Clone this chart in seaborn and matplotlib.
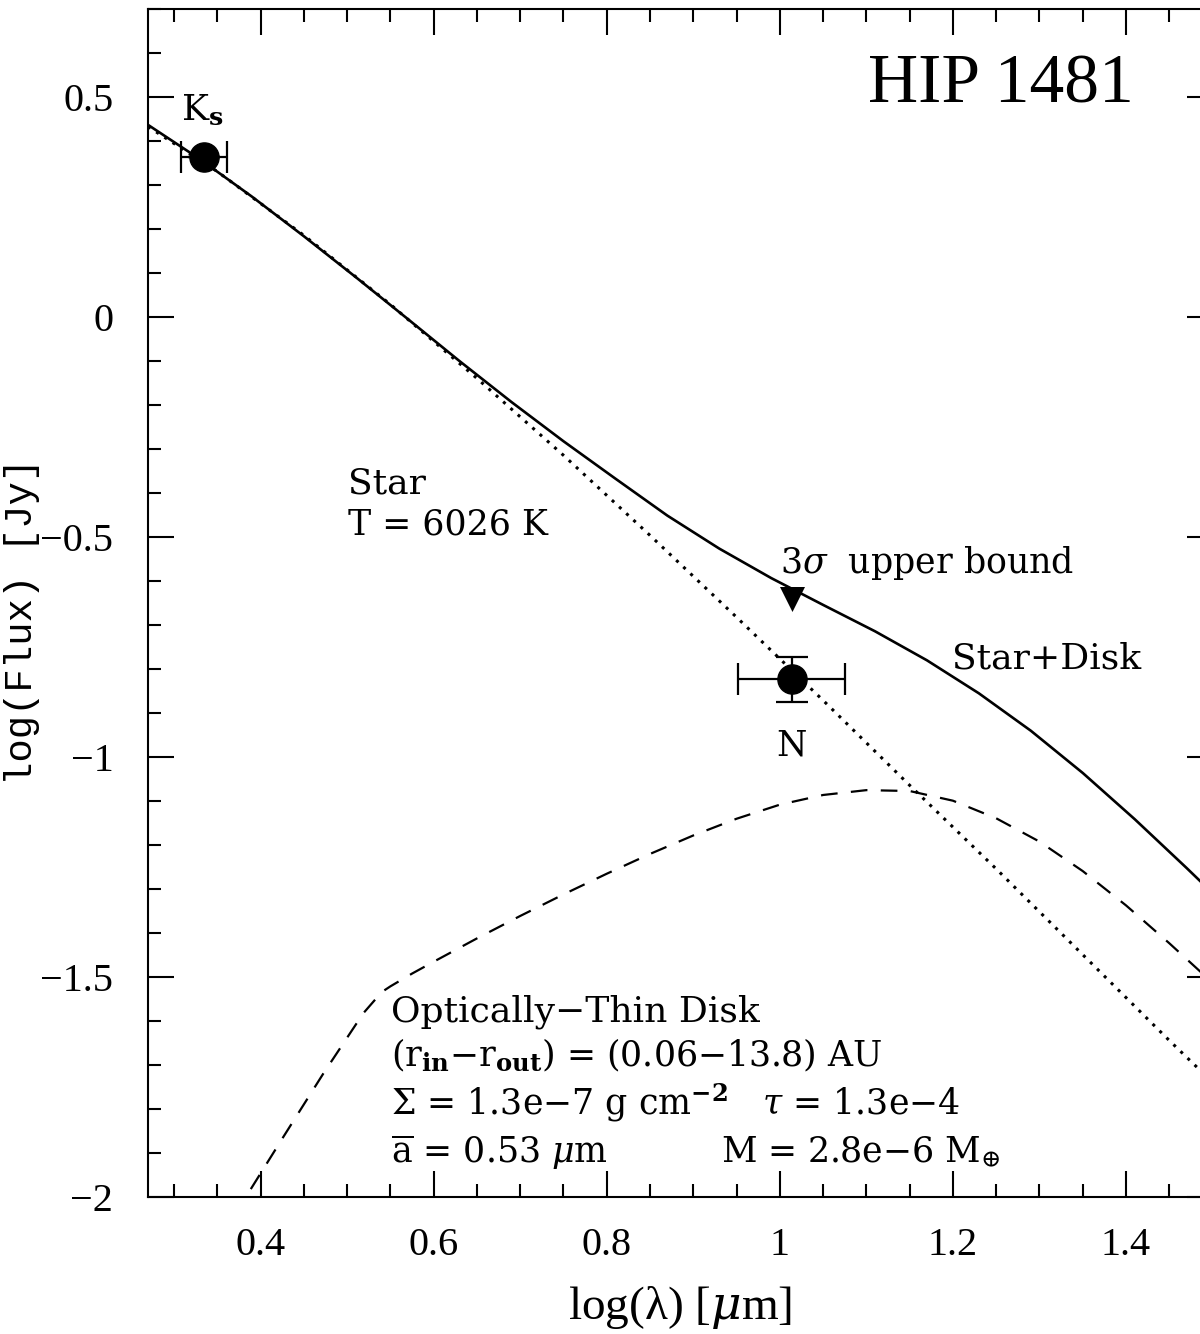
import numpy as np
import pandas as pd
import matplotlib
matplotlib.use("Agg")
import matplotlib.pyplot as plt
import seaborn as sns
from matplotlib.ticker import MultipleLocator, FixedLocator

# ---- data ----
# stellar photosphere (dotted)
star_x = [0.27, 0.35, 0.45, 0.55, 0.65, 0.75, 0.85, 0.95, 1.05, 1.15, 1.25, 1.35, 1.45, 1.50]
star_y = [0.432, 0.33, 0.185, 0.028, -0.14, -0.315, -0.497, -0.683, -0.872, -1.065, -1.255, -1.45, -1.645, -1.74]

# optically-thin disk (dashed)
disk_x = [0.37, 0.382, 0.4264, 0.4726, 0.5188, 0.54, 0.55, 0.575, 0.60, 0.65, 0.70, 0.75, 0.80,
          0.85, 0.90, 0.95, 1.00, 1.05, 1.10, 1.15, 1.20, 1.25, 1.30, 1.35, 1.40, 1.45, 1.50]
disk_y = [-2.04, -2.004, -1.864, -1.72, -1.583, -1.535, -1.522, -1.493, -1.466, -1.413, -1.362, -1.313, -1.266,
          -1.221, -1.179, -1.141, -1.109, -1.087, -1.076, -1.078, -1.10, -1.14, -1.193, -1.26, -1.338, -1.424, -1.514]

# star + disk (solid)
tot_x = [0.27, 0.33, 0.39, 0.45, 0.51, 0.57, 0.63, 0.69, 0.75, 0.81, 0.87, 0.93, 0.99,
         1.05, 1.11, 1.17, 1.23, 1.29, 1.35, 1.41, 1.47, 1.50]
tot_y = [0.436, 0.358, 0.273, 0.183, 0.090, -0.005, -0.101, -0.194, -0.283, -0.368, -0.452, -0.527,
         -0.594, -0.655, -0.715, -0.781, -0.856, -0.941, -1.037, -1.142, -1.253, -1.31]

# photometry
phot_x = [0.3347, 1.0137]
phot_y = [0.3636, -0.824]
phot_xerr = [0.026, 0.062]
phot_yerr = [0.0, 0.051]

# 3-sigma upper bound
ul_x = [1.0145]
ul_y = [-0.641]

xtick_vals = [0.4, 0.6, 0.8, 1.0, 1.2, 1.4]
xtick_labels = ["0.4", "0.6", "0.8", "1", "1.2", "1.4"]
ytick_vals = [-2, -1.5, -1, -0.5, 0, 0.5]
ytick_labels = ["\u22122", "\u22121.5", "\u22121", "\u22120.5", "0", "0.5"]

# ---- style ----
sns.set_theme(style="ticks")
plt.rcParams['font.family'] = ['DejaVu Serif']
plt.rcParams['mathtext.fontset'] = 'dejavuserif'
for k in ['text.color', 'axes.labelcolor', 'xtick.color', 'ytick.color', 'axes.edgecolor']:
    plt.rcParams[k] = 'black'

fig = plt.figure(figsize=(12, 13.34), dpi=100)
W, H = 1200, 1334
left, right, top, bottom = 148, 1212.6, 8.7, 1196.7
ax = fig.add_axes([left / W, 1 - bottom / H, (right - left) / W, (bottom - top) / H])

sns.lineplot(x=star_x, y=star_y, ax=ax, color='black', linestyle=(0, (1, 2.2)),
             linewidth=2.2, sort=False, estimator=None)
sns.lineplot(x=disk_x, y=disk_y, ax=ax, color='black', linestyle=(0, (7.5, 6)),
             linewidth=1.6, sort=False, estimator=None)
sns.lineplot(x=tot_x, y=tot_y, ax=ax, color='black', linestyle='-',
             linewidth=1.9, sort=False, estimator=None)

ax.errorbar(phot_x, phot_y, xerr=phot_xerr, yerr=phot_yerr, fmt='o', ms=21,
            color='black', ecolor='black', elinewidth=1.6, capsize=11.5, capthick=1.6, zorder=5)
sns.scatterplot(x=ul_x, y=ul_y, ax=ax, marker='v', s=18 ** 2, color='black',
                edgecolor='black', linewidth=0, zorder=6)

ax.set_xlim(0.27, 1.5)
ax.set_ylim(-2, 0.7)

ax.xaxis.set_major_locator(FixedLocator(xtick_vals))
ax.xaxis.set_minor_locator(MultipleLocator(0.05))
ax.yaxis.set_major_locator(FixedLocator(ytick_vals))
ax.yaxis.set_minor_locator(MultipleLocator(0.1))
ax.set_xticklabels(xtick_labels, fontfamily='Liberation Serif', fontsize=29)
ax.set_yticklabels(ytick_labels, fontfamily='Liberation Serif', fontsize=29)

ax.tick_params(which='both', direction='in', top=True, right=True, width=1.5, color='black')
ax.tick_params(which='major', length=19)
ax.tick_params(which='minor', length=9.5)
ax.tick_params(axis='y', which='major', pad=25)
ax.tick_params(axis='x', which='major', pad=22)
for s in ax.spines.values():
    s.set_linewidth(1.5)
    s.set_color('black')

ax.set_xlabel("log(\u03bb) [$\\mu$m]", fontfamily='Liberation Serif', fontsize=34, labelpad=14)
ax.set_ylabel("log(Flux) [Jy]", fontfamily='Liberation Mono', fontsize=28)
ax.yaxis.set_label_coords(-0.101, 0.484)

# ---- annotations ----
ax.text(1.102, 0.4857, "HIP 1481", fontfamily='Liberation Serif', fontsize=50, va='baseline', ha='left')
ax.text(0.3324, 0.47, "K$_{\\mathbf{s}}$", fontsize=26, ha='center', va='center')
ax.text(0.501, -0.378, "Star", fontsize=26, ha='left', va='center')
ax.text(0.501, -0.4734, "T = 6026 K", fontsize=25, ha='left', va='center')
ax.text(1.0002, -0.56, "3$\\sigma$  upper bound", fontsize=25, ha='left', va='center')
ax.text(1.199, -0.776, "Star+Disk", fontsize=26, ha='left', va='center')
ax.text(1.013, -0.974, "N", fontsize=25, ha='center', va='center')

ax.text(0.5508, -1.580, "Optically\u2212Thin Disk", fontsize=26, ha='left', va='center')
ax.text(0.5508, -1.678, "(r$_{\\mathbf{in}}$\u2212r$_{\\mathbf{out}}$) = (0.06\u221213.8) AU",
        fontsize=25, ha='left', va='center')
ax.text(0.5508, -1.787, "\u03a3 = 1.3e\u22127 g cm$^{\\mathbf{-2}}$   $\\tau$ = 1.3e\u22124",
        fontsize=25, ha='left', va='center')
ax.text(0.5508, -1.899, "$\\overline{\\mathrm{a}}$ = 0.53 $\\mu$m", fontsize=25, ha='left', va='center')
ax.text(0.932, -1.899, "M = 2.8e\u22126 M$_{\\oplus}$", fontsize=25, ha='left', va='center')

fig.savefig("out.png", dpi=100, facecolor='white')
